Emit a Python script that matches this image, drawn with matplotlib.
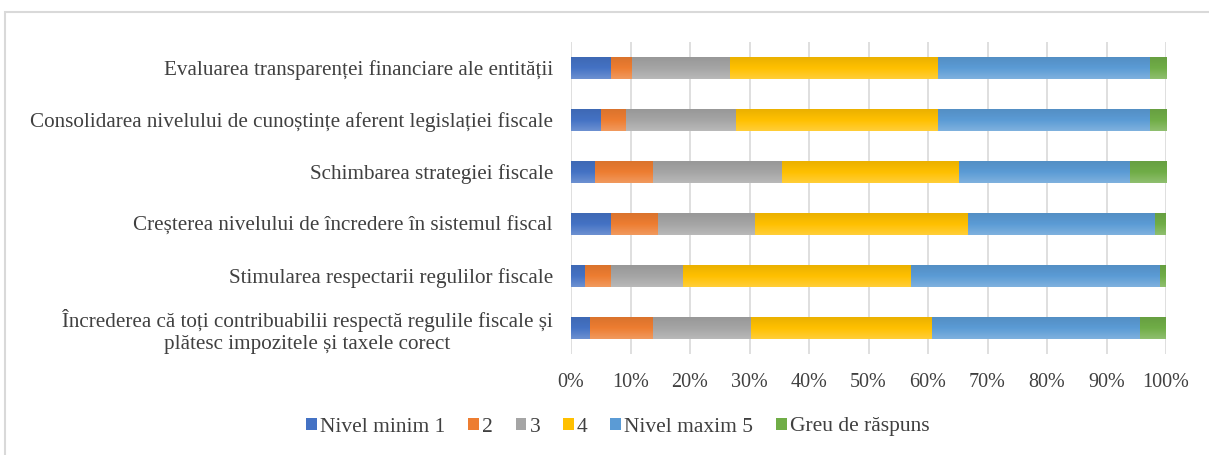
import numpy as np
import matplotlib
matplotlib.use("Agg")
import matplotlib.pyplot as plt
import matplotlib.colors as mcolors
from matplotlib.patches import Rectangle

plt.rcParams['font.family'] = ['Liberation Serif', 'DejaVu Serif']

# categories, bottom to top
categories = [
    "Încrederea că toți contribuabilii respectă regulile fiscale și\nplătesc impozitele și taxele corect",
    "Stimularea respectarii regulilor fiscale",
    "Creșterea nivelului de încredere în sistemul fiscal",
    "Schimbarea strategiei fiscale",
    "Consolidarea nivelului de cunoștințe aferent legislației fiscale",
    "Evaluarea transparenței financiare ale entității",
]

series_names = ["Nivel minim 1", "2", "3", "4", "Nivel maxim 5", "Greu de răspuns"]

# shares in %, same order as categories
nivel_1 = [3.2, 2.3, 6.7, 4.1, 5.1, 6.7]
nivel_2 = [10.5, 4.4, 7.9, 9.6, 4.2, 3.5]
nivel_3 = [16.5, 12.1, 16.3, 21.8, 18.4, 16.6]
nivel_4 = [30.5, 38.3, 35.8, 29.7, 33.9, 34.8]
nivel_5 = [35.0, 41.9, 31.5, 28.7, 35.7, 35.7]
greu = [4.3, 0.9, 1.7, 6.2, 2.7, 2.7]

series = [nivel_1, nivel_2, nivel_3, nivel_4, nivel_5, greu]
colors = ["#4472C4", "#ED7D31", "#A5A5A5", "#FFC000", "#5B9BD5", "#70AD47"]


def shade(c, f):
    r = np.array(mcolors.to_rgb(c))
    if f > 0:
        return tuple(r + (1 - r) * f)
    return tuple(r * (1 + f))


fig = plt.figure(figsize=(12.09, 4.55), dpi=100)
# chart area frame
fig.patches.append(Rectangle((5 / 1209, -0.1), 1.1, 1.1 - 12 / 455,
                             transform=fig.transFigure, fill=False,
                             edgecolor="#D9D9D9", linewidth=1.5, zorder=0))

ax = fig.add_axes([571 / 1209, 1 - 354 / 455, (1166 - 571) / 1209, (354 - 42) / 455])

y = np.arange(len(categories))
left = np.zeros(len(categories))
for vals, col, name in zip(series, colors, series_names):
    vals = np.array(vals, dtype=float)
    bars = ax.barh(y, vals, left=left, height=0.42, color=col, label=name, zorder=2)
    # vertical gradient fill, lighter on top
    grad = np.linspace(0, 1, 64)[:, None]
    cmap = mcolors.LinearSegmentedColormap.from_list(
        "g", [shade(col, 0.22), col, shade(col, -0.08)])
    for b in bars:
        x0, y0 = b.get_x(), b.get_y()
        w, h = b.get_width(), b.get_height()
        ax.imshow(grad, cmap=cmap, aspect="auto", extent=(x0, x0 + w, y0 + h, y0),
                  origin="upper", zorder=2.5)
    left += vals

ax.set_xlim(0, 100)
ax.set_ylim(-0.5, len(categories) - 0.5)
ax.set_xticks(np.arange(0, 101, 10))
ax.set_xticklabels([f"{v}%" for v in range(0, 101, 10)])
ax.set_yticks(y)
ax.set_yticklabels(categories)
for lbl in ax.get_yticklabels():
    lbl.set_multialignment("center")
ax.tick_params(axis="both", length=0, colors="#404040")
ax.tick_params(axis="y", pad=13, labelsize=15.2)
ax.tick_params(axis="x", pad=14, labelsize=14.5)
ax.grid(axis="x", color="#D9D9D9", linewidth=1.2, zorder=0)
ax.set_axisbelow(True)
for s in ax.spines.values():
    s.set_visible(False)

leg = fig.legend(loc="center", bbox_to_anchor=(618 / 1209, 1 - 427 / 455), ncol=6,
                 frameon=False, fontsize=15.5, handlelength=0.5, handleheight=0.5,
                 handletextpad=0.15, columnspacing=1.05, labelcolor="#404040")

fig.savefig("out.png", dpi=100)
